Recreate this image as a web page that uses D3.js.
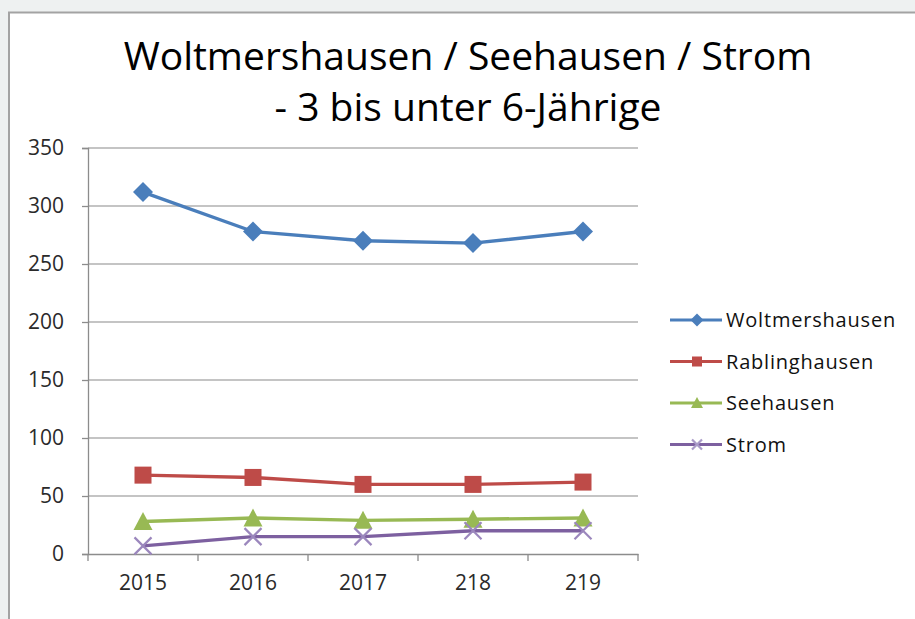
<!DOCTYPE html>
<html>
<head>
<meta charset="utf-8">
<script src="https://cdn.jsdelivr.net/npm/d3@7"></script>
<style>
  body { margin: 0; background: #eef1f1; }
  svg { display: block; }
</style>
</head>
<body>
<svg id="chart" width="915" height="619"></svg>
<script>
// Werte
const years = ["2015", "2016", "2017", "218", "219"]
const woltmershausen = [312, 278, 270, 268, 278]
const rablinghausen = [68, 66, 60, 60, 62]
const seehausen = [28, 31, 29, 30, 31]
const strom = [7, 15, 15, 20, 20]
const yTicks = [0, 50, 100, 150, 200, 250, 300, 350]
const titleLines = ["Woltmershausen / Seehausen / Strom", "- 3 bis unter 6-Jährige"]

const series = [
    { name: "Woltmershausen", values: woltmershausen, color: "#4a7ebb", marker: "diamond" },
    { name: "Rablinghausen", values: rablinghausen, color: "#be4b48", marker: "square" },
    { name: "Seehausen", values: seehausen, color: "#98b954", marker: "triangle" },
    { name: "Strom", values: strom, color: "#7d60a0", marker: "x" },
]

const font = "'Open Sans', sans-serif"
const svg = d3.select("#chart")

// Rahmen des Diagramms
svg.append("rect")
    .attr("x", 9).attr("y", 12.5)
    .attr("width", 930).attr("height", 640)
    .attr("fill", "#fff")
    .attr("stroke", "#a3a3a3")
    .attr("stroke-width", 2)

// Titel
svg.append("g").selectAll("text")
    .data(titleLines)
    .join("text")
    .attr("x", 468)
    .attr("y", (d, i) => 70 + i * 51)
    .attr("text-anchor", "middle")
    .attr("font-family", font)
    .attr("font-size", 39)
    .attr("fill", "#000")
    .text(d => d)

const x = d3.scaleBand().domain(years).range([88, 638])
const y = d3.scaleLinear().domain([0, 350]).range([554, 148])

// Gitterlinien
svg.append("g").selectAll("line")
    .data(yTicks.filter(d => d > 0))
    .join("line")
    .attr("x1", 88).attr("x2", 638)
    .attr("y1", d => y(d)).attr("y2", d => y(d))
    .attr("stroke", "#b0b0b0")
    .attr("stroke-width", 1.3)

// Y-Achse
const yAxis = svg.append("g")
    .attr("transform", "translate(88,0)")
    .call(d3.axisLeft(y).tickValues(yTicks).tickSize(6).tickPadding(18))
yAxis.select(".domain").attr("stroke", "#8c8c8c").attr("stroke-width", 1.3)
yAxis.selectAll(".tick line").attr("stroke", "#8c8c8c").attr("stroke-width", 1.3)
yAxis.selectAll("text").attr("font-family", font).attr("font-size", 21).attr("fill", "#2a2a2a")

// X-Achse
const xAxis = svg.append("g")
    .attr("transform", "translate(0,554)")
    .call(d3.axisBottom(x).tickSize(0).tickPadding(21))
xAxis.select(".domain").attr("stroke", "#8c8c8c").attr("stroke-width", 1.3)
xAxis.selectAll("text").attr("font-family", font).attr("font-size", 21).attr("fill", "#2a2a2a")
// Teilstriche zwischen den Kategorien
xAxis.append("g").selectAll("line")
    .data(years.concat(["end"]))
    .join("line")
    .attr("x1", (d, i) => 88 + i * x.step())
    .attr("x2", (d, i) => 88 + i * x.step())
    .attr("y1", 0).attr("y2", 7)
    .attr("stroke", "#8c8c8c")
    .attr("stroke-width", 1.3)

const cx = d => x(d) + x.bandwidth() / 2

function drawMarker(g, type, color, size) {
    const h = size / 2
    if (type === "diamond") {
        g.append("path").attr("d", `M0,${-h - 1.5}L${h + 1.5},0L0,${h + 1.5}L${-h - 1.5},0Z`).attr("fill", color)
    } else if (type === "square") {
        g.append("rect").attr("x", -h).attr("y", -h).attr("width", size).attr("height", size).attr("fill", color)
    } else if (type === "triangle") {
        g.append("path").attr("d", `M0,${-h - 1}L${h + 1},${h}L${-h - 1},${h}Z`).attr("fill", color)
    } else {
        g.append("path").attr("d", `M${-h},${-h}L${h},${h}M${-h},${h}L${h},${-h}`)
            .attr("stroke", color).attr("stroke-width", 2.2).attr("fill", "none")
    }
}

const line = d3.line().x((d, i) => cx(years[i])).y(d => y(d))

series.forEach(s => {
    svg.append("path")
        .datum(s.values)
        .attr("d", line)
        .attr("fill", "none")
        .attr("stroke", s.color)
        .attr("stroke-width", 3.4)
        .attr("stroke-linejoin", "round")

    s.values.forEach((v, i) => {
        const g = svg.append("g").attr("transform", `translate(${cx(years[i])},${y(v)})`)
        drawMarker(g, s.marker, s.marker === "x" ? "#9b87bd" : s.color, 17)
    })
})

// Legende
const legend = svg.append("g")
series.forEach((s, i) => {
    const ly = 320 + i * 41.5
    legend.append("line")
        .attr("x1", 670).attr("x2", 722)
        .attr("y1", ly).attr("y2", ly)
        .attr("stroke", s.color).attr("stroke-width", 3)
    const g = legend.append("g").attr("transform", `translate(697,${ly})`)
    drawMarker(g, s.marker, s.marker === "x" ? "#a99bc8" : s.color, 10)
    legend.append("text")
        .attr("x", 726).attr("y", ly + 7)
        .attr("font-family", font)
        .attr("font-size", 20)
        .attr("letter-spacing", 0.8)
        .attr("fill", "#111")
        .text(s.name)
})
</script>
</body>
</html>
